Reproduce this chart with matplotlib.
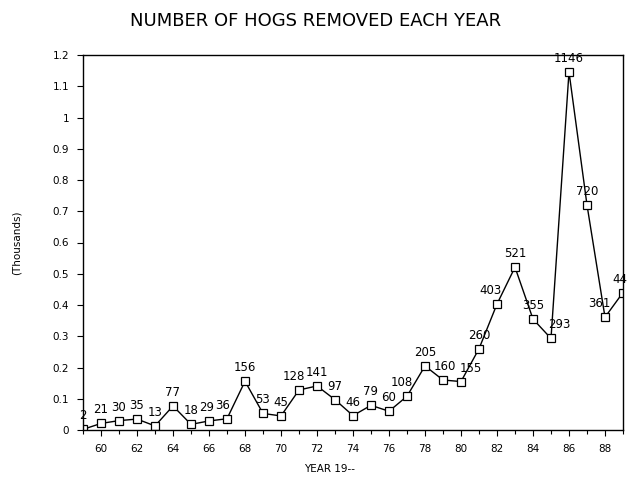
import matplotlib
matplotlib.use('Agg')
import matplotlib.pyplot as plt

years = list(range(1959, 1990))
hogs = [2, 21, 30, 35, 13, 77, 18, 29, 36, 156, 53, 45, 128, 141, 97, 46,
        79, 60, 108, 205, 160, 155, 260, 403, 521, 355, 293, 1146, 720, 361, 440]
point_labels = ['2', '21', '30', '35', '13', '77', '18', '29', '36', '156', '53', '45',
                '128', '141', '97', '46', '79', '60', '108', '205', '160', '155', '260',
                '403', '521', '355', '293', '1146', '720', '361', '44']
# horizontal shift of a few labels (points), the rest sit centred above
label_dx = {1966: -2, 1967: -3, 1971: -4, 1977: -4, 1979: 1, 1980: 7, 1982: -5,
            1985: 6, 1988: -4, 1989: -2}

x = [y - 1900 for y in years]
yv = [h / 1000 for h in hogs]

plt.rcParams['font.family'] = ['DejaVu Sans']
fig = plt.figure(figsize=(6.31, 4.78), dpi=100)
ax = fig.add_axes([83 / 631, 1 - 430 / 478, (623 - 83) / 631, (430 - 55) / 478])

ax.plot(x, yv, color='black', lw=1.0, marker='s', ms=6, mfc='white',
        mec='black', mew=0.9)

for yr, xi, v, lab in zip(years, x, yv, point_labels):
    ax.annotate(lab, (xi, v), xytext=(label_dx.get(yr, 0), 5),
                textcoords='offset points', ha='center', va='bottom', fontsize=8.5)

ax.set_xlim(59, 89)
ax.set_ylim(0, 1.2)
ax.set_xticks(range(60, 89, 2))
ax.set_xticks(range(59, 90), minor=True)
ax.set_xticklabels([str(v) for v in range(60, 89, 2)], fontsize=7.5)
ax.set_yticks([i / 10 for i in range(13)])
ax.set_yticklabels(['0', '0.1', '0.2', '0.3', '0.4', '0.5', '0.6', '0.7', '0.8',
                    '0.9', '1', '1.1', '1.2'], fontsize=7.5)
ax.tick_params(axis='both', direction='out', length=4, width=0.8, pad=6)
ax.tick_params(axis='x', which='minor', direction='out', length=3, width=0.8)
for s in ax.spines.values():
    s.set_linewidth(1.0)

ax.set_ylabel('(Thousands)', fontsize=7.5, labelpad=22)
fig.text(330 / 631, 1 - 469 / 478, 'YEAR 19--', ha='center', va='center',
         fontsize=7.5)
fig.text(0.5, 1 - 21 / 478, 'NUMBER OF HOGS REMOVED EACH YEAR', ha='center',
         va='center', fontsize=13)

fig.savefig('out.png', dpi=100)
